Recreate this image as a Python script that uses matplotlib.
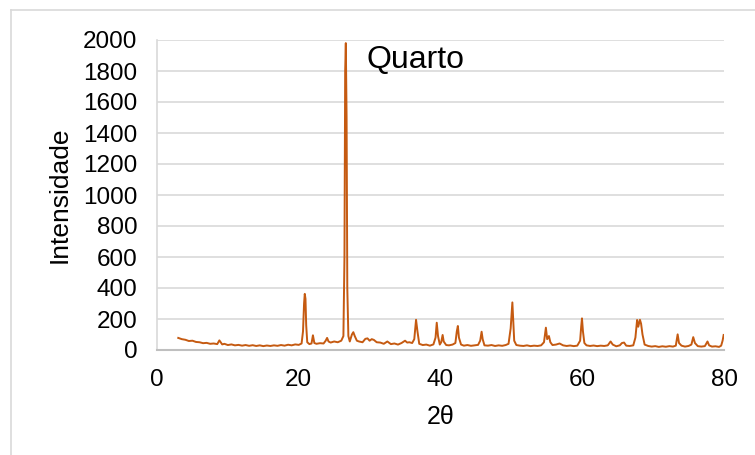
import matplotlib.pyplot as plt
from matplotlib.lines import Line2D

# XRD pattern (2theta, intensity)
two_theta = [
    3.0, 3.5, 4.0, 4.5, 5.0, 5.5, 6.0, 6.5, 7.0, 7.5,
    8.0, 8.5, 8.8, 9.2, 9.5, 10.0, 10.5, 11.0, 11.5, 12.0,
    12.5, 13.0, 13.5, 14.0, 14.5, 15.0, 15.5, 16.0, 16.5, 17.0,
    17.5, 18.0, 18.5, 19.0, 19.5, 20.0, 20.4, 20.6, 20.75, 20.85,
    20.95, 21.05, 21.2, 21.5, 21.8, 22.0, 22.2, 22.5, 23.0, 23.5,
    23.8, 24.0, 24.2, 24.5, 25.0, 25.5, 26.0, 26.3, 26.45, 26.55,
    26.64, 26.75, 26.85, 27.0, 27.2, 27.5, 27.7, 27.9, 28.2, 28.5,
    29.0, 29.4, 29.7, 30.0, 30.3, 30.6, 31.0, 31.5, 32.0, 32.5,
    33.0, 33.5, 34.0, 34.5, 35.0, 35.3, 35.6, 36.0, 36.3, 36.55,
    36.75, 37.0, 37.5, 38.0, 38.5, 39.0, 39.3, 39.47, 39.65, 39.9,
    40.1, 40.3, 40.45, 40.8, 41.2, 41.7, 42.1, 42.3, 42.45, 42.6,
    42.9, 43.3, 43.8, 44.3, 44.8, 45.3, 45.6, 45.8, 45.95, 46.2,
    46.7, 47.2, 47.7, 48.2, 48.7, 49.2, 49.6, 49.9, 50.05, 50.14,
    50.25, 50.4, 50.7, 51.2, 51.7, 52.2, 52.7, 53.2, 53.7, 54.2,
    54.6, 54.87, 55.05, 55.3, 55.5, 55.8, 56.3, 56.8, 57.3, 57.8,
    58.3, 58.8, 59.3, 59.7, 59.85, 59.96, 60.1, 60.3, 60.6, 61.1,
    61.6, 62.1, 62.6, 63.1, 63.6, 64.0, 64.3, 64.8, 65.3, 65.6,
    65.9, 66.2, 66.7, 67.2, 67.5, 67.74, 67.9, 68.14, 68.3, 68.5,
    68.8, 69.3, 69.8, 70.3, 70.8, 71.3, 71.8, 72.3, 72.8, 73.2,
    73.46, 73.65, 74.0, 74.5, 75.0, 75.4, 75.66, 75.9, 76.3, 76.8,
    77.3, 77.67, 77.9, 78.3, 78.8, 79.3, 79.6, 79.8, 79.95,
]
intensity = [
    78, 70, 66, 58, 60, 52, 50, 44, 46, 40,
    42, 38, 62, 36, 40, 32, 36, 30, 33, 28,
    32, 27, 31, 26, 30, 25, 29, 26, 30, 27,
    32, 28, 34, 30, 36, 33, 42, 120, 300, 362,
    330, 160, 50, 38, 42, 95, 45, 40, 44, 42,
    60, 78, 55, 48, 55, 50, 60, 90, 600, 1800,
    1980, 1500, 400, 90, 55, 100, 115, 90, 60, 55,
    50, 72, 75, 60, 70, 65, 50, 48, 40, 55,
    38, 42, 35, 45, 60, 48, 50, 45, 70, 195,
    120, 40, 32, 35, 28, 36, 80, 176, 90, 35,
    50, 97, 55, 32, 30, 35, 45, 120, 155, 80,
    35, 28, 32, 27, 30, 33, 60, 118, 70, 30,
    28, 32, 26, 30, 27, 32, 40, 140, 250, 307,
    200, 60, 32, 28, 26, 30, 25, 28, 26, 30,
    50, 144, 70, 90, 50, 32, 35, 42, 30, 26,
    29, 25, 28, 60, 150, 204, 120, 45, 30, 26,
    29, 25, 28, 26, 30, 55, 35, 24, 30, 45,
    48, 28, 26, 30, 80, 194, 150, 195, 170, 100,
    35, 26, 22, 25, 20, 24, 21, 25, 22, 28,
    101, 45, 28, 22, 26, 35, 83, 45, 25, 22,
    25, 55, 30, 22, 24, 20, 28, 60, 97,
]
assert len(two_theta) == len(intensity)

x_ticks = [0, 20, 40, 60, 80]
y_ticks = list(range(0, 2001, 200))

plt.rcParams['font.family'] = ['Liberation Sans', 'DejaVu Sans']

fig = plt.figure(figsize=(7.55, 4.55), dpi=100)
ax = fig.add_axes([157 / 755, 1 - 350 / 455, 567 / 755, 310 / 455])

ax.plot(two_theta, intensity, color='#c55a11', linewidth=1.4)

ax.set_xlim(0, 80)
ax.set_ylim(0, 2000)
ax.set_xticks(x_ticks)
ax.set_yticks(y_ticks)
ax.tick_params(length=0, labelsize=17.5, pad=14)
ax.grid(axis='y', color='#d9d9d9', linewidth=1.2)
ax.set_axisbelow(True)
for s in ['top', 'right']:
    ax.spines[s].set_visible(False)
ax.spines['left'].set_color('#d9d9d9')
ax.spines['left'].set_linewidth(1.2)
ax.spines['bottom'].set_color('#bfbfbf')
ax.spines['bottom'].set_linewidth(1.5)

ax.set_xlabel('2θ', fontsize=18, labelpad=10)
ax.set_ylabel('Intensidade', fontsize=19, labelpad=8)
ax.text(29.5, 1870, 'Quarto', fontsize=23, va='center', ha='left')

# outer chart border (only left and top edges visible)
fig.add_artist(Line2D([11 / 755, 11 / 755], [0, 1 - 10 / 455], color='#d9d9d9', linewidth=1.2))
fig.add_artist(Line2D([11 / 755, 1], [1 - 10 / 455, 1 - 10 / 455], color='#d9d9d9', linewidth=1.2))

fig.savefig('out.png', dpi=100)
